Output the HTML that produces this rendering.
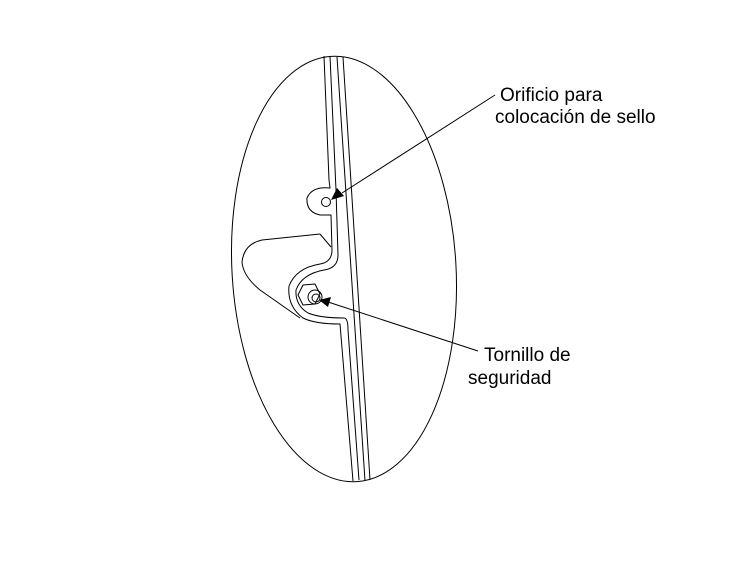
<!DOCTYPE html>
<html><head><meta charset="utf-8"><style>
html,body{margin:0;padding:0;background:#fff;width:750px;height:568px;overflow:hidden}
svg{display:block}
text{font-family:"Liberation Sans",sans-serif;font-size:19px;fill:#000}
</style></head><body>
<svg width="750" height="568" viewBox="0 0 750 568">
<g fill="none" stroke="#000" stroke-width="1" stroke-linejoin="round">
<ellipse cx="344" cy="269" rx="112" ry="213" transform="rotate(-3.4 344 269)"/>
<line x1="337" y1="57" x2="365" y2="481"/>
<line x1="343" y1="57" x2="370" y2="480"/>
<path d="M324 56 L329 180 L330 188 Q312 186 307 198 Q306 212 320 215 L331 215 L332 250 Q332 262 320 264 Q296 268 289 286 Q287 306 303 318 Q315 324 340 324 L353 481"/>
<path d="M330 56 L336 190 L338 255 Q338 268 324 270 Q302 274 296 290 Q295 305 308 313 Q320 318 344 318 Q348 318 348 330 L359 480"/>
<path d="M320 234 L262 240 Q244 244 242 262 Q243 276 260 290 L300 318"/>
<line x1="320" y1="234" x2="331" y2="247"/>
<circle cx="326" cy="202" r="4.5"/>
<polygon points="303,285 315,284 320,294 315,304 303,305 298,295"/>
<circle cx="315" cy="297" r="7"/>
<circle cx="316" cy="298" r="4"/>
<line x1="495" y1="95" x2="342" y2="193"/>
<line x1="478" y1="351" x2="325" y2="301"/>
</g>
<polygon points="331,200 337,188 344,196" fill="#000"/>
<polygon points="319,300 331,297 328,307" fill="#000"/>
<text x="500" y="101">Orificio para</text>
<text x="495" y="123">colocación de sello</text>
<text x="484" y="361">Tornillo de</text>
<text x="468" y="384">seguridad</text>
</svg>
</body></html>
